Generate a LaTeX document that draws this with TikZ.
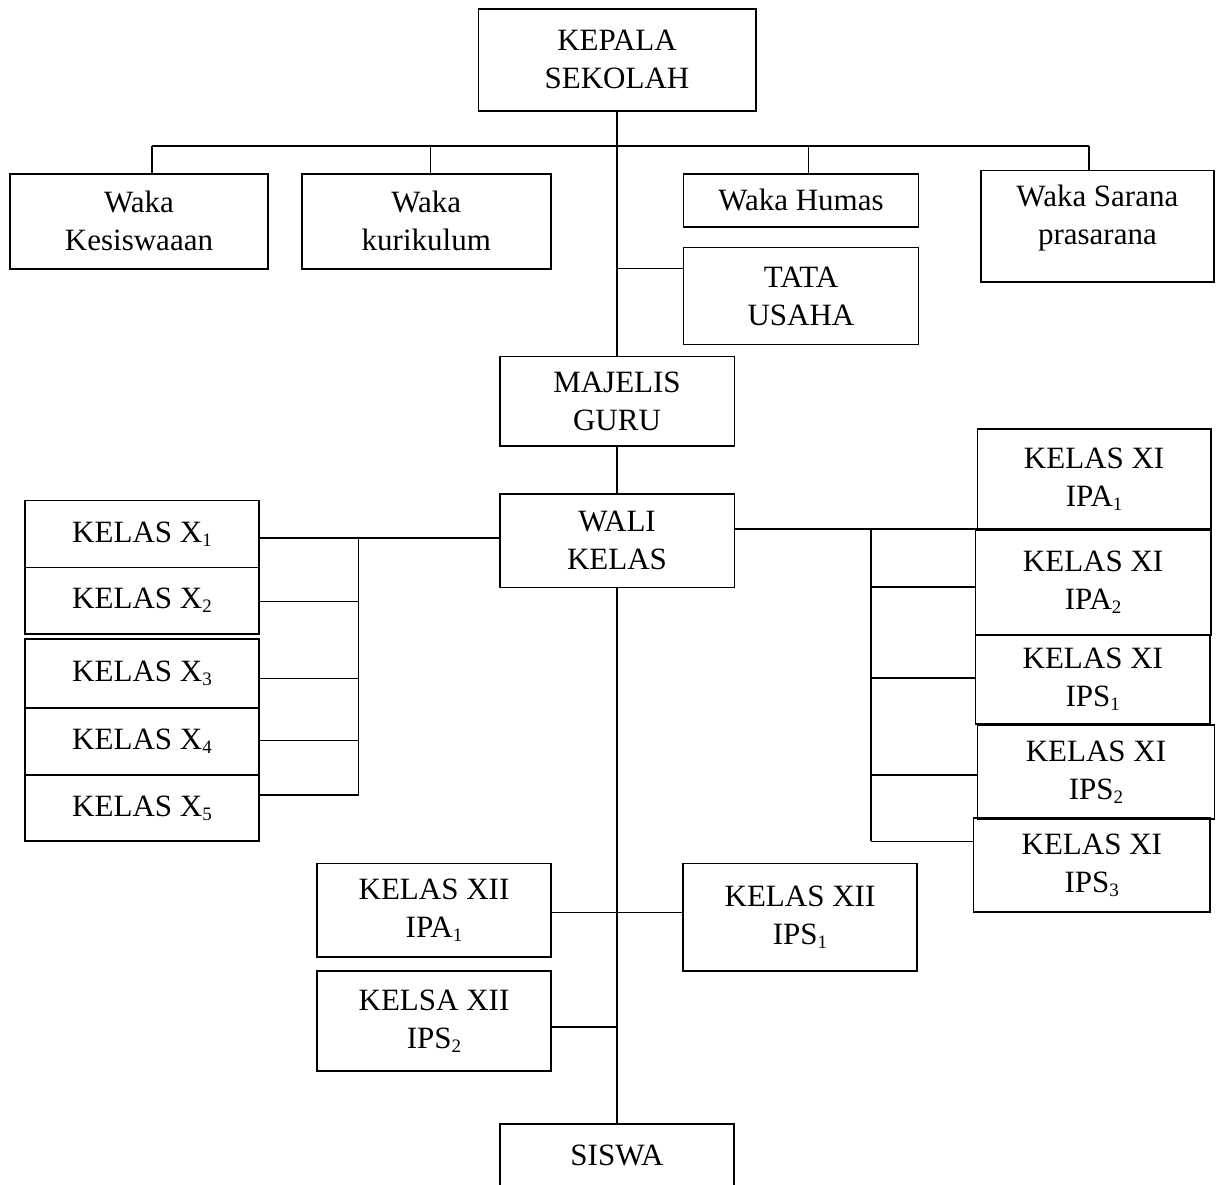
\documentclass[tikz,border=0pt]{standalone}
\usepackage{fontspec}
\setmainfont{Liberation Serif}
\newcommand{\sbx}[1]{{\fontsize{19}{19}\selectfont\raisebox{-4pt}{#1}}}
\tikzset{
  box/.style={draw, line width=1.6pt, align=center, inner sep=0pt,
    font=\fontsize{31}{38}\selectfont},
  bx/.style 2 args={box, minimum width=#1, minimum height=#2},
  conn/.style={line width=1.6pt}
}
\begin{document}
\begin{tikzpicture}[x=1pt,y=-1pt]
\fill[white] (0,0) rectangle (1216,1184);
\useasboundingbox (0,0) rectangle (1216,1184);
% top
\node[bx={277.4}{101.7}] (kep) at (617,59.85) {KEPALA\\SEKOLAH};
\node[bx={258.1}{95}] (kes) at (139,221.2) {Waka\\Kesiswaaan};
\node[bx={249.1}{95}] (kur) at (426.3,221.2) {Waka\\kurikulum};
\node[bx={235.3}{53}] (hum) at (801,200.2) {Waka Humas};
\node[bx={233.2}{111.4}, text depth=23pt] (sar) at (1097.4,226) {Waka Sarana\\prasarana};
\node[bx={235.3}{96.7}] (tata) at (801,296) {TATA\\USAHA};
\node[bx={234.6}{89.7}] (maj) at (617,401.2) {MAJELIS\\GURU};
\node[bx={234.6}{93.3}] (wali) at (617,540.7) {WALI\\KELAS};
% kelas X
\node[bx={234.1}{67}] (x1) at (142,533.8) {KELAS X\sbx{1}};
\node[bx={234.1}{66.7}] (x2) at (142,600.7) {KELAS X\sbx{2}};
\node[bx={234.1}{69}] (x3) at (142,673.2) {KELAS X\sbx{3}};
\node[bx={234.1}{67}] (x4) at (142,741.2) {KELAS X\sbx{4}};
\node[bx={234.1}{66.3}] (x5) at (142,807.9) {KELAS X\sbx{5}};
% kelas XI
\node[bx={233.2}{99.9}] (xa1) at (1094.1,478.8) {KELAS XI\\IPA\sbx{1}};
\node[bx={235.2}{104.4}] (xa2) at (1093.1,582.7) {KELAS XI\\IPA\sbx{2}};
\node[bx={234.5}{89.1}] (xs1) at (1092.8,679.5) {KELAS XI\\IPS\sbx{1}};
\node[bx={237.1}{94.3}] (xs2) at (1096,772) {KELAS XI\\IPS\sbx{2}};
\node[bx={236.5}{94}] (xs3) at (1091.8,865) {KELAS XI\\IPS\sbx{3}};
% kelas XII
\node[bx={234.1}{93.4}] (ya1) at (434,910) {KELAS XII\\IPA\sbx{1}};
\node[bx={234.1}{107.7}] (ys1) at (800,917.2) {KELAS XII\\IPS\sbx{1}};
\node[bx={234.1}{99.7}] (ys2) at (434,1020.9) {KELSA XII\\IPS\sbx{2}};
\node[bx={234.2}{62}] (sis) at (617,1155) {SISWA};
% junction coordinates
\coordinate (cKes) at (152.2,145.7);
\coordinate (cKur) at (430.6,145.7);
\coordinate (cHum) at (808.4,145.7);
\coordinate (cSar) at (1089,145.7);
\coordinate (cTata) at (617,268.3);
\coordinate (lW) at (358.6,537.7);
\coordinate (l2) at (358.6,601.3);
\coordinate (l3) at (358.6,678.3);
\coordinate (l4) at (358.6,740.3);
\coordinate (l5) at (358.6,794.7);
\coordinate (rW) at (871.1,528.7);
\coordinate (r2) at (871.1,587.1);
\coordinate (r3) at (871.1,677.8);
\coordinate (r4) at (871.1,774.7);
\coordinate (r5) at (871.1,841.3);
\coordinate (m1) at (617,912.3);
\coordinate (m2) at (617,1026.7);
% connectors
\draw[conn] (kep.south) -- (maj.north);
\draw[conn] (maj.south) -- (wali.north);
\draw[conn] (wali.south) -- (sis.north);
\draw[conn] (cKes) -- (cSar);
\draw[conn] (cKes) -- (cKes |- kes.north);
\draw[conn] (cKur) -- (cKur |- kur.north);
\draw[conn] (cHum) -- (cHum |- hum.north);
\draw[conn] (cSar) -- (cSar |- sar.north);
\draw[conn] (cTata) -- (tata.west |- cTata);
\draw[conn] (wali.west |- lW) -- (x1.east |- lW);
\draw[conn] (lW) -- (l5);
\draw[conn] (l2) -- (x2.east |- l2);
\draw[conn] (l3) -- (x3.east |- l3);
\draw[conn] (l4) -- (x4.east |- l4);
\draw[conn] (l5) -- (x5.east |- l5);
\draw[conn] (wali.east |- rW) -- (xa1.west |- rW);
\draw[conn] (rW) -- (r5);
\draw[conn] (r2) -- (xa2.west |- r2);
\draw[conn] (r3) -- (xs1.west |- r3);
\draw[conn] (r4) -- (xs2.west |- r4);
\draw[conn] (r5) -- (xs3.west |- r5);
\draw[conn] (ya1.east |- m1) -- (ys1.west |- m1);
\draw[conn] (ys2.east |- m2) -- (m2);
\end{tikzpicture}
\end{document}
